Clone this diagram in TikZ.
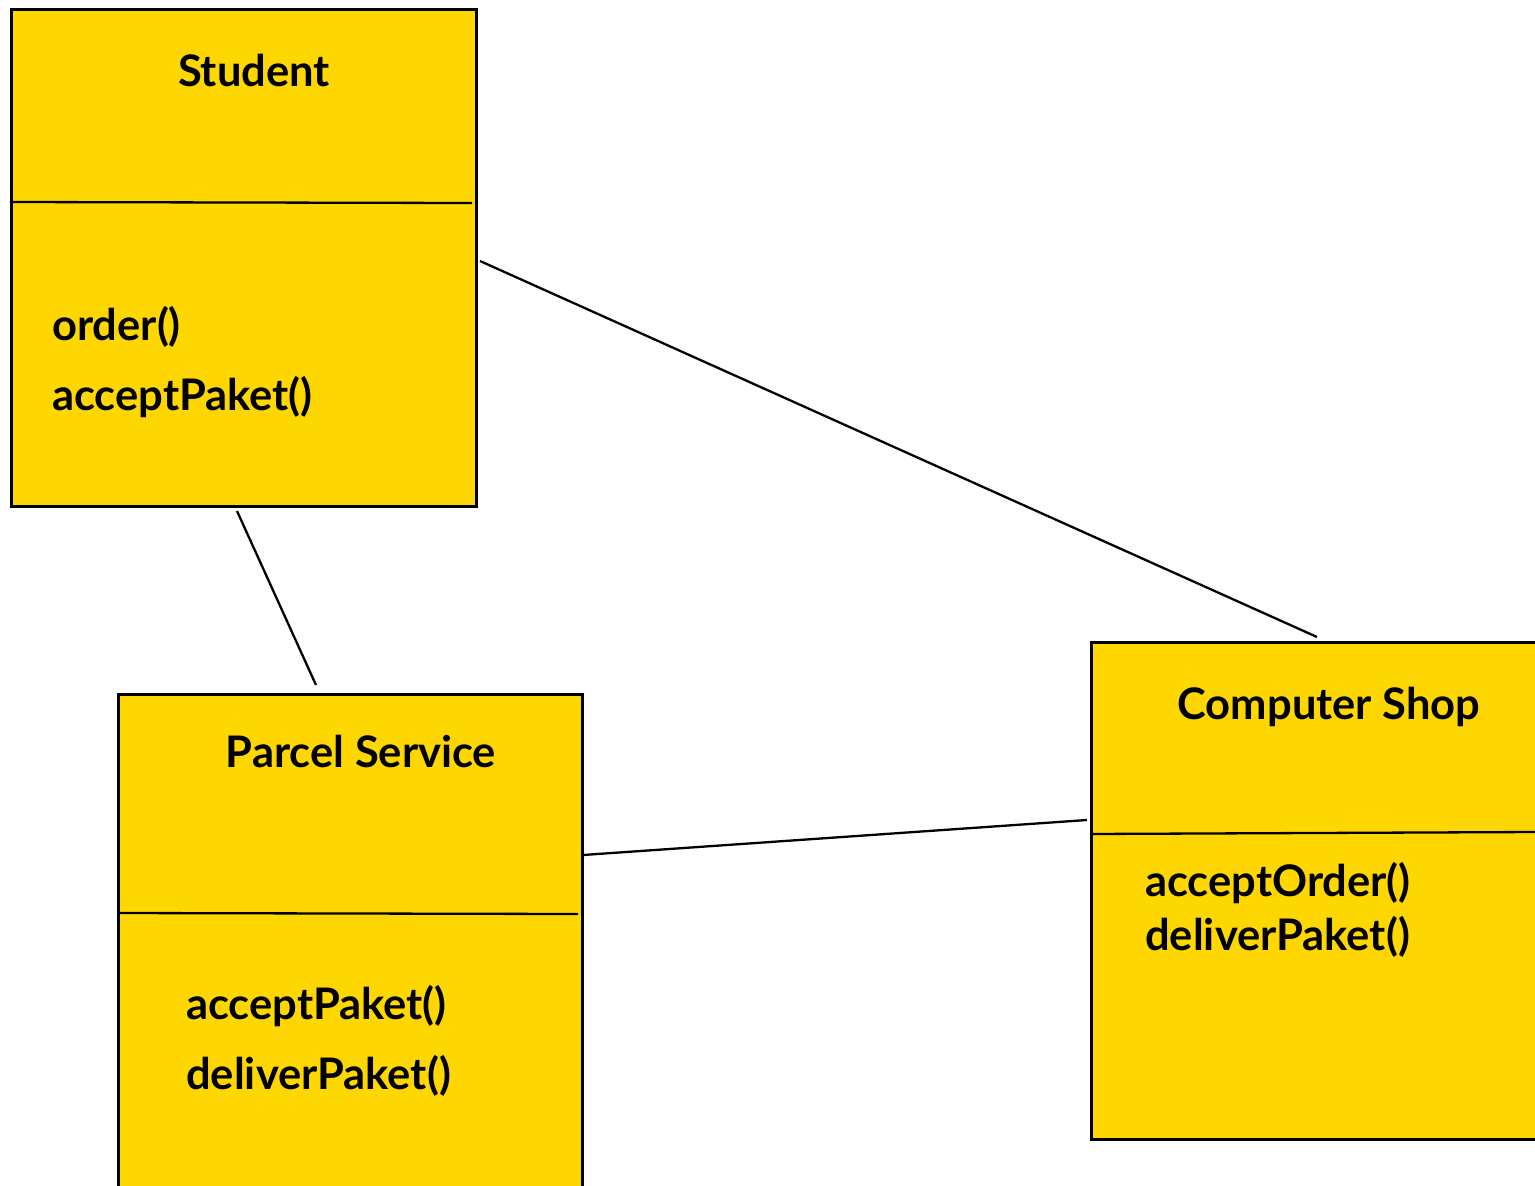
\documentclass[tikz,border=0pt]{standalone}
\usepackage{fontspec}
\setmainfont{Lato}
\definecolor{boxyellow}{HTML}{FFD700}
\begin{document}
\begin{tikzpicture}[x=1pt,y=-1pt,
  umlbox/.style={draw=black,fill=boxyellow,line width=2.5pt,rectangle,anchor=north west,inner sep=0pt},
  divider/.style={draw=black,line width=2.3pt},
  conn/.style={draw=black,line width=2.3pt},
  txt/.style={font=\fontsize{43.5}{52}\selectfont\bfseries,inner sep=0pt},
]
\useasboundingbox (0,0) rectangle (1535,1186);
\clip (0,0) rectangle (1535,1186);
% boxes
\node[umlbox,minimum width=465pt,minimum height=497pt] (student) at (10,8) {};
\node[umlbox,minimum width=464pt,minimum height=520pt] (parcel) at (117,693) {};
\node[umlbox,minimum width=470pt,minimum height=497pt] (shop) at (1090,641) {};
% dividers
\coordinate (sd1) at (10,202); \coordinate (sd2) at (472,203);
\coordinate (pd1) at (117,913); \coordinate (pd2) at (578,914);
\coordinate (cd1) at (1090,834); \coordinate (cd2) at (1535,832);
\draw[divider] (sd1) -- (sd2);
\draw[divider] (pd1) -- (pd2);
\draw[divider] (cd1) -- (cd2);
% texts
\node[txt,anchor=base] (studentT) at (254,86) {Student};
\node[txt,anchor=base west] (sm1) at (52,340) {order()};
\node[txt,anchor=base west] (sm2) at (52,410) {acceptPaket()};
\node[txt,anchor=base] (parcelT) at (361,767) {Parcel Service};
\node[txt,anchor=base west] (pm1) at (186,1019) {acceptPaket()};
\node[txt,anchor=base west] (pm2) at (186,1089) {deliverPaket()};
\node[txt,anchor=base] (shopT) at (1329,719) {Computer Shop};
\node[txt,anchor=base west] (cm1) at (1145,896) {acceptOrder()};
\node[txt,anchor=base west] (cm2) at (1145,950) {deliverPaket()};
% connector ends
\coordinate (a1) at (480,261); \coordinate (a2) at (1317,637);
\coordinate (b1) at (237,511); \coordinate (b2) at (316,685);
\coordinate (c1) at (583,855); \coordinate (c2) at (1087,820);
\draw[conn] (a1) -- (a2);
\draw[conn] (b1) -- (b2);
\draw[conn] (c1) -- (c2);
\end{tikzpicture}
\end{document}
